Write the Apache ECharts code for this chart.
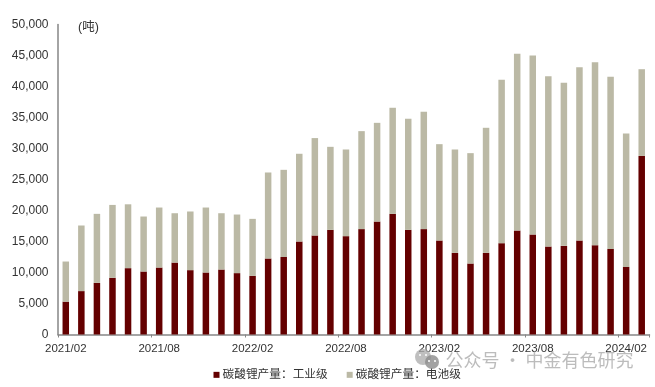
<!DOCTYPE html>
<html><head><meta charset="utf-8">
<style>html,body{margin:0;padding:0;background:#fff}#c{width:655px;height:387px}</style>
<script src="https://cdn.jsdelivr.net/npm/echarts@6/dist/echarts.min.js"></script>
</head><body><div id="c"></div>
<script>
const categories = ['2021/02','2021/03','2021/04','2021/05','2021/06','2021/07','2021/08','2021/09','2021/10','2021/11','2021/12','2022/01','2022/02','2022/03','2022/04','2022/05','2022/06','2022/07','2022/08','2022/09','2022/10','2022/11','2022/12','2023/01','2023/02','2023/03','2023/04','2023/05','2023/06','2023/07','2023/08','2023/09','2023/10','2023/11','2023/12','2024/01','2024/02','2024/03'];
const industrial = [5300,7000,8330,9140,10700,10160,10800,11600,10380,10000,10480,9900,9460,12260,12500,15000,15970,16880,15860,17000,18220,19460,16880,17000,15160,13170,11450,13170,14730,16770,16130,14190,14300,15160,14400,13800,10900,28800];
const battery = [6470,10580,11130,11760,10300,8870,9680,7960,9460,10480,9080,9450,9190,13870,14060,14150,15710,13390,13980,15800,15920,17110,17920,18930,15540,16670,17800,20170,26350,28500,28870,27480,26290,27960,29530,27760,21530,13990];
const yTicks = {min:0,max:50000,interval:5000};
const seriesNames = ['碳酸锂产量：工业级','碳酸锂产量：电池级'];
const unit = '(吨)';
const watermark = '公众号 · 中金有色研究';
const latin = '"Liberation Sans", Arial, sans-serif';
const cjk = '"Liberation Sans", "Noto Sans CJK SC", sans-serif';
const chart = echarts.init(document.getElementById('c'), null, {renderer:'canvas'});
chart.setOption({
  animation:false,
  backgroundColor:'#fff',
  grid:{left:58,right:5.5,top:24.5,bottom:52.5,containLabel:false},
  legend:{top:364,left:208.5,itemWidth:6,itemHeight:6,itemGap:19,icon:'rect',
    textStyle:{fontFamily:cjk,fontSize:11.7,color:'#333',padding:[0,0,0,-2]},
    data:seriesNames},
  xAxis:{type:'category',data:categories,
    axisLine:{lineStyle:{color:'#868686',width:1.5}},
    axisTick:{show:true,alignWithLabel:false,interval:5,length:3,lineStyle:{color:'#868686',width:1}},
    axisLabel:{interval:5,fontFamily:latin,fontSize:11.5,color:'#333',margin:8,hideOverlap:false}},
  yAxis:{type:'value',min:yTicks.min,max:yTicks.max,interval:yTicks.interval,
    axisLine:{show:true,lineStyle:{color:'#868686',width:1.5}},
    axisTick:{show:false},splitLine:{show:false},
    axisLabel:{fontFamily:latin,fontSize:12,color:'#333',margin:9.5,
      formatter:v=>v.toLocaleString('en-US')}},
  series:[
    {name:seriesNames[0],type:'bar',stack:'t',data:industrial,barWidth:6.5,itemStyle:{color:'#640000'}},
    {name:seriesNames[1],type:'bar',stack:'t',data:battery,barWidth:6.5,itemStyle:{color:'#BBB9A5'}}
  ],
  graphic:[
    {type:'text',left:78,top:21.5,style:{text:unit,font:'12.5px '+cjk,fill:'#333'}},
    {type:'text',left:445.5,top:351.5,z:10,style:{text:watermark,font:'18px "Noto Sans CJK SC"',fill:'rgba(160,160,160,0.7)'}},
    {type:'circle',shape:{cx:423,cy:357,r:8},z:10,style:{fill:'rgba(170,170,170,0.75)'}},
    {type:'circle',shape:{cx:432,cy:362,r:7},z:11,style:{fill:'rgba(140,140,140,0.8)'}},
    {type:'circle',shape:{cx:420,cy:355,r:1},z:12,style:{fill:'#fff'}},
    {type:'circle',shape:{cx:426,cy:355,r:1},z:12,style:{fill:'#fff'}},
    {type:'circle',shape:{cx:429,cy:361,r:1},z:12,style:{fill:'#fff'}},
    {type:'circle',shape:{cx:435,cy:361,r:1},z:12,style:{fill:'#fff'}}
  ]
});
</script></body></html>
